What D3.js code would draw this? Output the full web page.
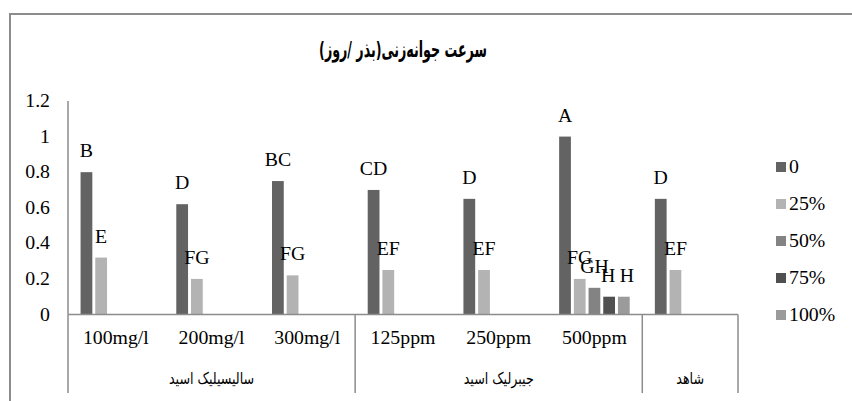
<!DOCTYPE html>
<html>
<head>
<meta charset="utf-8">
<script src="https://cdn.jsdelivr.net/npm/d3@7"></script>
<style>
	body { margin: 0; background: #fff; }
	text { font-family: "Liberation Serif", "Times New Roman", serif; fill: #000; font-size: 18px; }
	.fa { font-family: "DejaVu Sans Condensed", "DejaVu Sans", sans-serif; }
</style>
</head>
<body>
<div id="wrapper"></div>
<script>
// data
const title = "سرعت جوانه‌زنی(بذر /روز)";
const subCategories = ["100mg/l", "200mg/l", "300mg/l", "125ppm", "250ppm", "500ppm", ""];
const groupNames = ["سالیسیلیک اسید", "جیبرلیک اسید", "شاهد"];
const groupSpans = [3, 3, 1];
const seriesNames = ["0", "25%", "50%", "75%", "100%"];
const seriesColors = ["#636363", "#b3b3b3", "#838383", "#505050", "#9b9b9b"];
const values = [
	[0.80, 0.62, 0.75, 0.70, 0.65, 1.00, 0.65],
	[0.32, 0.20, 0.22, 0.25, 0.25, 0.20, 0.25],
	[null, null, null, null, null, 0.15, null],
	[null, null, null, null, null, 0.10, null],
	[null, null, null, null, null, 0.10, null]
];
const letters = [
	["B", "D", "BC", "CD", "D", "A", "D"],
	["E", "FG", "FG", "EF", "EF", "FG", "EF"],
	[null, null, null, null, null, "GH", null],
	[null, null, null, null, null, "H", null],
	[null, null, null, null, null, "H", null]
];
const yTicks = [0, 0.2, 0.4, 0.6, 0.8, 1, 1.2];

// dimensions
const dimensions = {
	width: 852,
	height: 401,
	plotLeft: 68,
	plotRight: 738,
	plotTop: 101,
	plotBottom: 314.5
};

// the source text is drawn a little wider than the font
const stretch = 1.1;
const place = (x, y, sx = stretch) => `translate(${x},${y}) scale(${sx},1)`;

const svg = d3.select("#wrapper")
	.append("svg")
	.attr("width", dimensions.width)
	.attr("height", dimensions.height);

// frame
svg.append("rect")
	.attr("x", 10).attr("y", 14)
	.attr("width", 900).attr("height", 500)
	.attr("fill", "none")
	.attr("stroke", "#8c8c8c")
	.attr("stroke-width", 2);

// scales
const xScale = d3.scaleBand()
	.domain(d3.range(subCategories.length))
	.range([dimensions.plotLeft, dimensions.plotRight]);

const innerScale = d3.scaleBand()
	.domain(seriesNames)
	.range([0, xScale.bandwidth()])
	.paddingInner(0.2)
	.paddingOuter(0.855);

const yScale = d3.scaleLinear()
	.domain([0, 1.2])
	.range([dimensions.plotBottom, dimensions.plotTop]);

// title
svg.append("text")
	.attr("class", "fa")
	.attr("transform", place((dimensions.plotLeft + dimensions.plotRight) / 2, 57, 0.64))
	.attr("text-anchor", "middle")
	.attr("direction", "rtl")
	.style("font-size", "22px")
	.style("font-weight", "bold")
	.text(title);

// y axis
svg.append("line")
	.attr("x1", dimensions.plotLeft).attr("x2", dimensions.plotLeft)
	.attr("y1", yScale(1.2)).attr("y2", yScale(0))
	.attr("stroke", "#8c8c8c").attr("stroke-width", 1.5);

svg.append("g").selectAll("text")
	.data(yTicks)
	.join("text")
	.attr("transform", d => place(50, yScale(d) + 6))
	.attr("text-anchor", "end")
	.text(d3.format(""));

// bars
seriesNames.forEach((s, si) => {
	const rows = values[si].map((v, i) => ({ i, v, label: letters[si][i] })).filter(d => d.v != null);

	svg.append("g").selectAll("rect")
		.data(rows)
		.join("rect")
		.attr("x", d => xScale(d.i) + innerScale(s))
		.attr("y", d => yScale(d.v))
		.attr("width", innerScale.bandwidth())
		.attr("height", d => yScale(0) - yScale(d.v))
		.attr("fill", seriesColors[si]);

	// last series labels sit a touch to the right, as in the source
	const nudge = si === seriesNames.length - 1 ? 3 : (si === 3 ? -1 : 0);
	svg.append("g").selectAll("text")
		.data(rows)
		.join("text")
		.attr("transform", d => place(xScale(d.i) + innerScale(s) + innerScale.bandwidth() / 2 + nudge, yScale(d.v) - 15))
		.attr("text-anchor", "middle")
		.text(d => d.label);
});

// x axis line
svg.append("line")
	.attr("x1", dimensions.plotLeft).attr("x2", dimensions.plotRight)
	.attr("y1", yScale(0)).attr("y2", yScale(0))
	.attr("stroke", "#8c8c8c").attr("stroke-width", 1.5);

// sub category labels
svg.append("g").selectAll("text")
	.data(subCategories)
	.join("text")
	.attr("transform", (d, i) => place(xScale(i) + xScale.bandwidth() / 2, 344))
	.attr("text-anchor", "middle")
	.text(d => d);

// group labels and dividers
let start = 0;
const bounds = [0];
groupSpans.forEach((span, gi) => {
	const x0 = xScale(start);
	const x1 = start + span < subCategories.length ? xScale(start + span) : dimensions.plotRight;
	svg.append("text")
		.attr("class", "fa")
		.attr("transform", place((x0 + x1) / 2, 384, 0.88))
		.attr("text-anchor", "middle")
		.attr("direction", "rtl")
		.style("font-size", "16px")
		.text(groupNames[gi]);
	start += span;
	bounds.push(start);
});

svg.append("g").selectAll("line")
	.data(bounds)
	.join("line")
	.attr("x1", d => d < subCategories.length ? xScale(d) : dimensions.plotRight)
	.attr("x2", d => d < subCategories.length ? xScale(d) : dimensions.plotRight)
	.attr("y1", yScale(0))
	.attr("y2", 393)
	.attr("stroke", "#8c8c8c")
	.attr("stroke-width", 1.5);

// legend
const legend = svg.append("g").selectAll("g")
	.data(seriesNames)
	.join("g")
	.attr("transform", (d, i) => `translate(776,${167 + i * 37})`);

legend.append("rect")
	.attr("x", 0).attr("y", -5)
	.attr("width", 10).attr("height", 10)
	.attr("fill", (d, i) => seriesColors[i]);

legend.append("text")
	.attr("transform", place(13, 6))
	.text(d => d);
</script>
</body>
</html>
